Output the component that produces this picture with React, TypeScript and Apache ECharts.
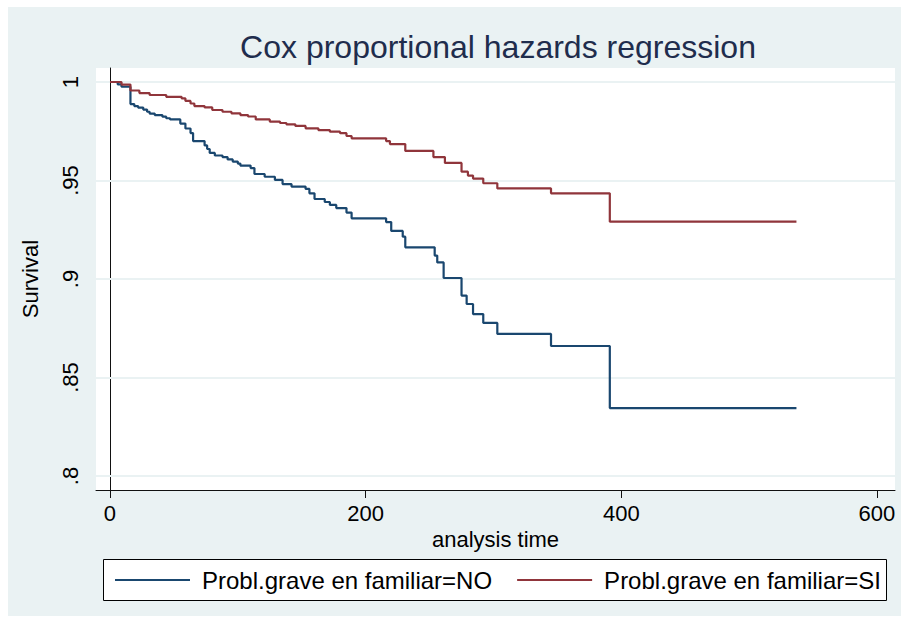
import React, { useEffect, useRef } from 'react';
import * as echarts from 'echarts';

const xTicks = [0, 200, 400, 600];
const yTicks = [0.8, 0.85, 0.9, 0.95, 1];

const seriesNames = ['Probl.grave en familiar=NO', 'Probl.grave en familiar=SI'];

const timesNO = [0, 6, 9, 16, 19, 22, 26, 29, 31, 35, 41, 44, 47, 55, 59, 63, 65, 74, 76, 78, 82, 88, 92, 96, 100, 102, 110, 113, 121, 129, 135, 142, 153, 156, 160, 168, 172, 177, 185, 189, 216, 220, 229, 231, 254, 256, 261, 275, 279, 284, 292, 303, 345, 391, 537];
const survNO = [1, 0.9988, 0.9976, 0.9888, 0.9878, 0.987, 0.986, 0.9849, 0.984, 0.9832, 0.9824, 0.9816, 0.981, 0.9789, 0.9764, 0.9741, 0.97, 0.9678, 0.966, 0.964, 0.9627, 0.9619, 0.9607, 0.9596, 0.9586, 0.9576, 0.9563, 0.9533, 0.9519, 0.9503, 0.9482, 0.9469, 0.9457, 0.9435, 0.9406, 0.9391, 0.9376, 0.936, 0.9337, 0.9308, 0.9289, 0.9244, 0.9215, 0.9161, 0.9119, 0.9084, 0.9005, 0.8916, 0.8873, 0.8822, 0.8777, 0.8721, 0.866, 0.8345, 0.8345];

const timesSI = [0, 9, 16, 23, 31, 44, 56, 59, 63, 66, 74, 80, 88, 95, 102, 108, 114, 125, 133, 138, 145, 153, 163, 172, 180, 185, 189, 216, 219, 231, 253, 262, 275, 280, 284, 292, 303, 345, 391, 537];
const survSI = [1, 0.9987, 0.9957, 0.9944, 0.9934, 0.9925, 0.9917, 0.9904, 0.9891, 0.9878, 0.9871, 0.9858, 0.9849, 0.9841, 0.9832, 0.9825, 0.981, 0.9799, 0.9792, 0.9785, 0.9777, 0.9765, 0.9756, 0.9748, 0.974, 0.9726, 0.9714, 0.97, 0.9685, 0.965, 0.9619, 0.9589, 0.9545, 0.9525, 0.951, 0.9486, 0.946, 0.9435, 0.9291, 0.9291];

const FONT = "'Liberation Sans', Arial, sans-serif";

export default function App() {
  const ref = useRef<HTMLDivElement>(null);
  useEffect(() => {
    document.body.style.margin = '0';
    const chart = echarts.init(ref.current!, null, { renderer: 'svg' });
    const fmt = (v: number) => {
      const s = String(Math.round(v * 100) / 100);
      return s.startsWith('0.') ? s.slice(1) : s;
    };
    chart.setOption({
      animation: false,
      backgroundColor: 'transparent',
      textStyle: { fontFamily: FONT },
      grid: {
        left: 96,
        right: 12,
        top: 68,
        bottom: 133,
        show: true,
        backgroundColor: '#ffffff',
        borderWidth: 0,
      },
      graphic: [
        {
          type: 'text',
          x: 498,
          y: 47,
          style: {
            text: 'Cox proportional hazards regression',
            fontFamily: FONT,
            fontSize: 32,
            fill: '#1f2d4d',
            textAlign: 'center',
            textVerticalAlign: 'middle',
          },
        },
        {
          type: 'rect',
          shape: { x: 103.5, y: 559.5, width: 783, height: 41 },
          style: { fill: '#ffffff', stroke: '#000000', lineWidth: 1 },
          z: 1,
        },
      ],
      legend: {
        data: seriesNames,
        left: 115,
        top: 568,
        padding: 0,
        itemWidth: 75,
        itemHeight: 2,
        itemGap: 25,
        icon: 'rect',
        z: 5,
        textStyle: { fontFamily: FONT, fontSize: 24, color: '#000', padding: [0, 0, 0, 7] },
      },
      xAxis: {
        type: 'value',
        min: -10.95,
        max: 614.1,
        name: 'analysis time',
        nameLocation: 'middle',
        nameGap: 36,
        nameTextStyle: { fontFamily: FONT, fontSize: 22, color: '#000' },
        axisLine: { show: true, lineStyle: { color: '#111', width: 1 } },
        axisTick: { show: true, length: 8, customValues: xTicks, lineStyle: { color: '#111' } },
        axisLabel: { customValues: xTicks, margin: 12, fontSize: 22, color: '#000', fontFamily: FONT },
        splitLine: { show: false },
      },
      yAxis: {
        type: 'value',
        min: 0.79289,
        max: 1.00711,
        name: 'Survival',
        nameLocation: 'middle',
        nameGap: 55,
        nameTextStyle: { fontFamily: FONT, fontSize: 22, color: '#000' },
        axisLine: { show: true, lineStyle: { color: '#111', width: 1 } },
        axisTick: { show: true, length: 8, customValues: yTicks, lineStyle: { color: '#111' } },
        axisLabel: {
          customValues: yTicks,
          rotate: 90,
          margin: 15,
          fontSize: 22,
          color: '#000',
          fontFamily: FONT,
          formatter: (v: number) => fmt(v),
        },
        splitLine: { show: false },
      },
      series: [
        {
          name: 'grid',
          type: 'line',
          data: [],
          z: 1,
          silent: true,
          markLine: {
            silent: true,
            z: 1,
            symbol: 'none',
            label: { show: false },
            emphasis: { disabled: true },
            lineStyle: { color: '#eaf2f3', width: 2, type: 'solid' },
            data: yTicks.map((v) => ({ yAxis: v })),
          },
        },
        {
          name: seriesNames[0],
          type: 'line',
          step: 'end',
          symbol: 'none',
          showSymbol: false,
          z: 3,
          itemStyle: { color: '#1a476f' },
          lineStyle: { color: '#1a476f', width: 2.2 },
          data: timesNO.map((t, i) => [t, survNO[i]]),
        },
        {
          name: seriesNames[1],
          type: 'line',
          step: 'end',
          symbol: 'none',
          showSymbol: false,
          z: 3,
          itemStyle: { color: '#90353b' },
          lineStyle: { color: '#90353b', width: 2.2 },
          data: timesSI.map((t, i) => [t, survSI[i]]),
        },
      ],
    });
    return () => chart.dispose();
  }, []);
  return (
    <div style={{ position: 'relative', width: 907, height: 623, background: '#ffffff' }}>
      <div style={{ position: 'absolute', left: 8, top: 7, width: 893, height: 609, background: '#eaf2f3' }} />
      <div ref={ref} style={{ position: 'absolute', left: 0, top: 0, width: 907, height: 623 }} />
    </div>
  );
}
